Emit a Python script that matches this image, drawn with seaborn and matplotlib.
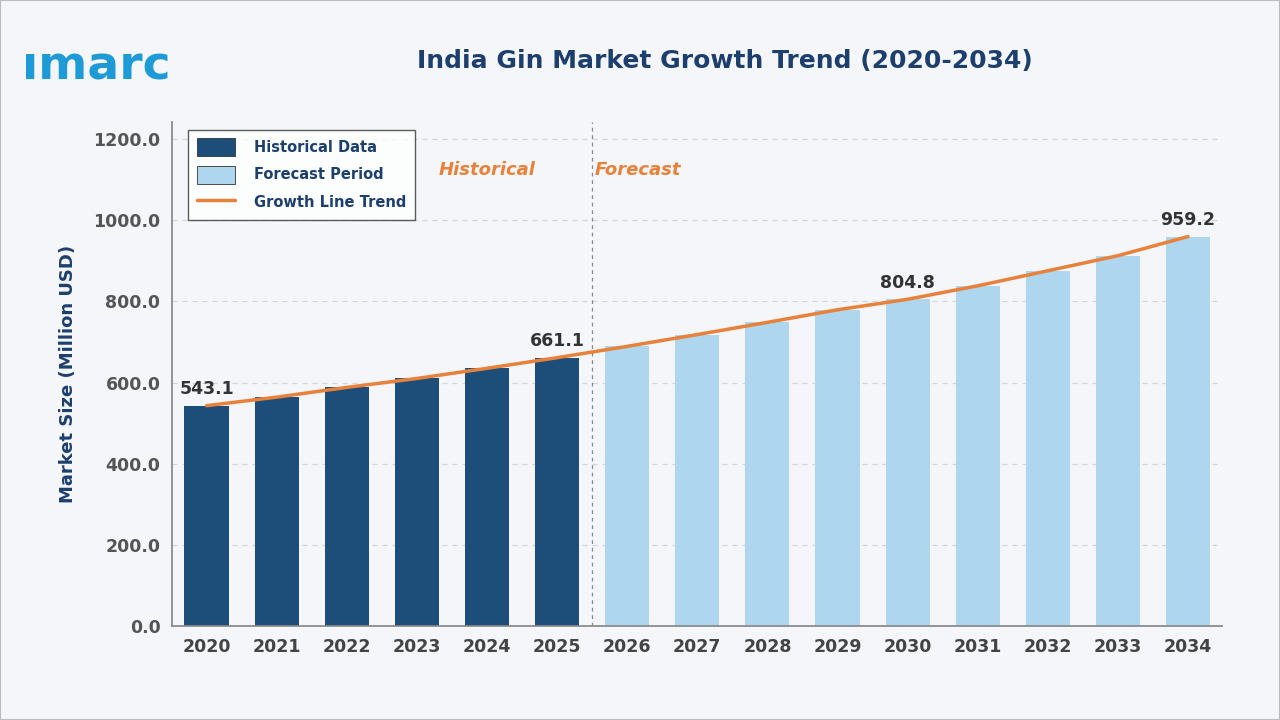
import matplotlib
matplotlib.use("Agg")
import matplotlib.pyplot as plt
import seaborn as sns
import pandas as pd
from matplotlib.patches import Patch
from matplotlib.lines import Line2D

years = [str(y) for y in range(2020, 2035)]
values = [543.1, 564, 588, 610, 635, 661.1, 689, 718, 748, 779, 804.8, 838, 875, 912, 959.2]
period = ["Historical"] * 6 + ["Forecast"] * 9
labeled = {"2020": "543.1", "2025": "661.1", "2030": "804.8", "2034": "959.2"}

df = pd.DataFrame({"Year": years, "Value": values, "Period": period})

sns.set_theme(style="white")
plt.rcParams['font.family'] = ['DejaVu Sans']
fig = plt.figure(figsize=(12.8, 7.2), dpi=100)
fig.patch.set_facecolor("#f4f6f9")
ax = fig.add_axes([0.134, 0.13, 0.821, 0.70])
ax.set_facecolor("#f4f6f9")

dark, light, orange = "#1d4e79", "#aed6ef", "#e8813a"
sns.barplot(data=df, x="Year", y="Value", hue="Period", palette={"Historical": dark, "Forecast": light},
            dodge=False, width=0.63, ax=ax, legend=False, saturation=1, linewidth=0)
ax.plot(range(len(years)), values, color=orange, lw=2.5, zorder=5)

for i, y in enumerate(years):
    if y in labeled:
        ax.text(i, values[i] + 18, labeled[y], ha="center", va="bottom", fontsize=12.5,
                fontweight="bold", color="#333333", zorder=6)

ax.set_ylim(0, 1240)
ax.set_xlim(-0.5, 14.49)
ax.set_yticks(range(0, 1201, 200))
ax.set_yticklabels([f"{v:.1f}" for v in range(0, 1201, 200)], fontsize=12.5, fontweight="bold", color="#555555")
ax.set_xticklabels(years, fontsize=12.5, fontweight="bold", color="#444444")
ax.set_xlabel("")
ax.set_ylabel("Market Size (Million USD)", fontsize=13, fontweight="bold", color="#1d3f6e", labelpad=12)
ax.yaxis.grid(True, linestyle=(0, (4, 4)), color="#cfd6df", lw=0.9)
ax.set_axisbelow(True)
for s in ["top", "right"]:
    ax.spines[s].set_visible(False)
ax.spines["left"].set_color("#888888")
ax.spines["bottom"].set_color("#888888")
ax.tick_params(axis="both", length=0, pad=8)

ax.axvline(5.5, color="#888888", ls=(0, (3, 3)), lw=0.9)
ax.text(4.0, 1110, "Historical", color=orange, fontsize=13, fontweight="bold", style="italic", ha="center", zorder=10)
ax.text(6.15, 1110, "Forecast", color=orange, fontsize=13, fontweight="bold", style="italic", ha="center")

handles = [Patch(facecolor=dark, edgecolor="#333333", lw=0.6), Patch(facecolor=light, edgecolor="#333333", lw=0.6),
           Line2D([0], [0], color=orange, lw=2.5)]
leg = ax.legend(handles, ["Historical Data", "Forecast Period", "Growth Line Trend"], loc="upper left",
                bbox_to_anchor=(0.009, 1.0), frameon=True, fancybox=False,
                prop={"size": 10.5, "weight": "bold"},
                edgecolor="#333333", handlelength=2.6, handleheight=1.5, labelspacing=0.65, borderpad=0.6,
                handletextpad=1.3)
leg.get_frame().set_facecolor("white")
for t in leg.get_texts():
    t.set_color("#1d3f6e")

fig.text(0.566, 0.905, "India Gin Market Growth Trend (2020-2034)", ha="center", fontsize=18,
         fontweight="bold", color="#1d3f6e")
fig.text(0.017, 0.89, "ımarc", fontsize=34, fontweight="bold", color="#1e9ad6")
fig.add_artist(matplotlib.patches.Rectangle((0, 0), 1, 1, transform=fig.transFigure, fill=False,
                                            edgecolor="#bbbbbb", lw=1.5))
fig.savefig("out.png", dpi=100, facecolor=fig.get_facecolor())
